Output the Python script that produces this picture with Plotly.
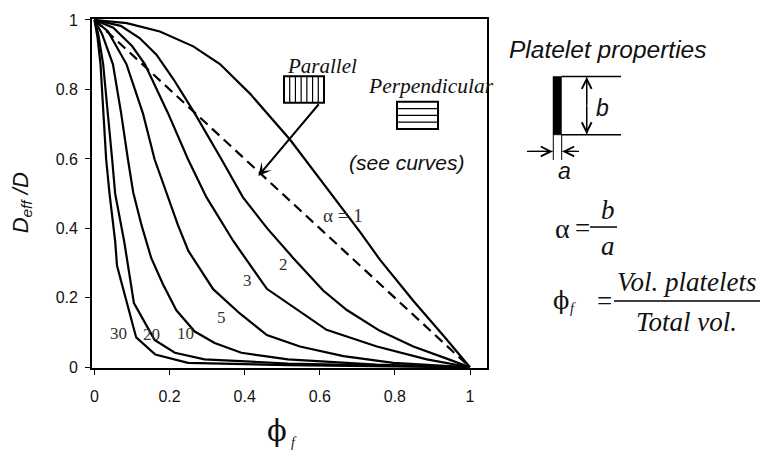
import plotly.graph_objects as go

# ---- data ----
phi_a1 = [0, 0.086, 0.174, 0.263, 0.334, 0.414, 0.521, 0.627, 0.707, 0.76, 0.85, 0.93, 1.0]
d_a1 = [1.0, 0.991, 0.967, 0.924, 0.873, 0.788, 0.655, 0.504, 0.39, 0.31, 0.19, 0.09, 0.0]

phi_a2 = [0, 0.07, 0.12, 0.165, 0.21, 0.267, 0.338, 0.395, 0.46, 0.529, 0.609, 0.672, 0.76, 0.849, 0.938, 1.0]
d_a2 = [1.0, 0.983, 0.948, 0.90, 0.83, 0.731, 0.599, 0.49, 0.40, 0.315, 0.221, 0.165, 0.105, 0.06, 0.025, 0.0]

phi_a3 = [0, 0.05, 0.1, 0.134, 0.196, 0.249, 0.298, 0.370, 0.459, 0.529, 0.618, 0.752, 0.885, 1.0]
d_a3 = [1.0, 0.978, 0.925, 0.873, 0.731, 0.599, 0.49, 0.363, 0.226, 0.174, 0.108, 0.060, 0.023, 0.0]

phi_a5 = [0, 0.036, 0.085, 0.129, 0.160, 0.191, 0.222, 0.25, 0.316, 0.387, 0.459, 0.547, 0.663, 0.796, 1.0]
d_a5 = [1.0, 0.967, 0.873, 0.731, 0.599, 0.504, 0.41, 0.335, 0.225, 0.155, 0.093, 0.060, 0.032, 0.013, 0.0]

phi_a10 = [0, 0.02, 0.049, 0.071, 0.089, 0.103, 0.125, 0.151, 0.182, 0.218, 0.267, 0.320, 0.391, 0.515, 0.75, 1.0]
d_a10 = [1.0, 0.96, 0.873, 0.731, 0.599, 0.504, 0.41, 0.315, 0.240, 0.164, 0.103, 0.070, 0.042, 0.023, 0.008, 0.0]

phi_a20 = [0, 0.01, 0.023, 0.036, 0.047, 0.055, 0.079, 0.105, 0.160, 0.214, 0.293, 0.515, 1.0]
d_a20 = [1.0, 0.96, 0.873, 0.731, 0.599, 0.50, 0.363, 0.185, 0.079, 0.042, 0.023, 0.011, 0.0]

phi_a30 = [0, 0.008, 0.016, 0.023, 0.031, 0.04, 0.055, 0.060, 0.111, 0.162, 0.249, 0.515, 1.0]
d_a30 = [1.0, 0.95, 0.873, 0.731, 0.599, 0.50, 0.363, 0.292, 0.086, 0.037, 0.013, 0.006, 0.0]

phi_perp = [0, 1.0]
d_perp = [1.0, 0.0]

x_ticks = [0, 0.2, 0.4, 0.6, 0.8, 1]
x_tick_text = ["0", "0.2", "0.4", "0.6", "0.8", "1"]
y_ticks = [0, 0.2, 0.4, 0.6, 0.8, 1]
y_tick_text = ["0", "0.2", "0.4", "0.6", "0.8", "1"]

curve_labels = ["α = 1", "2", "3", "5", "10", "20", "30"]

SERIF = "Liberation Serif"
SANS = "Liberation Sans"
PHI_FONT = "DejaVu Serif"

# plot area in pixels
L, R, T, B = 92, 487, 14, 368
W, H = 761, 451


def PX(px):
    return (px - L) / (R - L)


def PY(py):
    return (B - py) / (B - T)


fig = go.Figure()
for xs, ys in [(phi_a1, d_a1), (phi_a2, d_a2), (phi_a3, d_a3), (phi_a5, d_a5),
               (phi_a10, d_a10), (phi_a20, d_a20), (phi_a30, d_a30)]:
    fig.add_trace(go.Scatter(x=xs, y=ys, mode="lines",
                             line=dict(color="black", width=2.2),
                             showlegend=False, hoverinfo="skip"))
fig.add_trace(go.Scatter(x=phi_perp, y=d_perp, mode="lines",
                         line=dict(color="black", width=2.2, dash="10px,6px"),
                         showlegend=False, hoverinfo="skip"))

ann = []


def text(px, py, s, size, family, color="black", angle=0):
    ann.append(dict(x=PX(px), y=PY(py), xref="paper", yref="paper", text=s,
                    showarrow=False, xanchor="center", yanchor="middle",
                    textangle=angle,
                    font=dict(family=family, size=size, color=color)))


# curve labels
label_pos = [(343, 213), (283, 263), (247, 279), (221, 317), (185, 333), (151, 334), (118, 333)]
for lab, (px, py) in zip(curve_labels, label_pos):
    text(px, py, lab, 19 if lab.startswith("α") else 17, SERIF, "#333")

# orientation legend
text(322, 62, "<i>Parallel</i>", 21, SERIF, "#111")
text(431, 82, "<i>Perpendicular</i>", 21.5, SERIF, "#111")
text(407, 160, "<i>(see curves)</i>", 21, SANS, "#111")

# arrow from parallel box
ann.append(dict(x=PX(258.3), y=PY(173.3), xref="paper", yref="paper", text="",
                showarrow=True, ax=61.7, ay=-73.3, arrowhead=3, arrowsize=1.1,
                arrowwidth=2, arrowcolor="black", standoff=0))

# axis titles
text(22, 201, "<i>D<sub>eff</sub> /D</i>", 22, SANS, "#111", angle=-90)
text(277, 432, "ϕ", 29, PHI_FONT, "#111")
text(294, 444, "<i>f</i>", 14, SERIF, "#111")

# platelet properties panel
text(607, 45, "<i>Platelet properties</i>", 24.5, SANS, "#111")
text(602, 104, "<i>b</i>", 23, SANS, "#111")
text(564, 168, "<i>a</i>", 23, SANS, "#111")
for tipx, tipy, ax, ay in [(586.7, 72.8, 0, 29), (586.7, 130.8, 0, -29),
                           (552.7, 148.3, -25, 0), (562.3, 148.3, 16, 0)]:
    ann.append(dict(x=PX(tipx), y=PY(tipy), xref="paper", yref="paper", text="",
                    showarrow=True, ax=ax, ay=ay, arrowhead=5, arrowsize=1.6,
                    arrowwidth=1.2, arrowcolor="black", standoff=0))

# alpha = b / a
text(562, 226, "α", 28, SERIF, "#111")
text(582, 226, "=", 27, SERIF, "#111")
text(608, 208, "<i>b</i>", 27, SERIF, "#111")
text(608, 244, "<i>a</i>", 27, SERIF, "#111")
# phi_f = Vol. platelets / Total vol.
text(561, 300, "ϕ", 24, PHI_FONT, "#111")
text(573, 308, "<i>f</i>", 14, SERIF, "#111")
text(604, 300, "=", 27, SERIF, "#111")
text(686, 281, "<i>Vol. platelets</i>", 27, SERIF, "#111")
text(686, 321, "<i>Total vol.</i>", 27, SERIF, "#111")

shapes = []


def line(x0, y0, x1, y1, w=1.5):
    shapes.append(dict(type="line", xref="paper", yref="paper",
                       x0=PX(x0), y0=PY(y0), x1=PX(x1), y1=PY(y1),
                       line=dict(color="black", width=w)))


def rect(x0, y0, x1, y1, w=2, fill=None):
    shapes.append(dict(type="rect", xref="paper", yref="paper",
                       x0=PX(x0), y0=PY(y0), x1=PX(x1), y1=PY(y1),
                       line=dict(color="black", width=w),
                       fillcolor=fill if fill else "rgba(0,0,0,0)"))


# parallel box (vertical stripes)
px0, py0, px1, py1 = 284, 72, 324, 99
rect(px0, py0, px1, py1, 2)
for i in range(1, 7):
    xx = px0 + (px1 - px0) * i / 7
    line(xx, py0, xx, py1, 1.2)
# perpendicular box (horizontal stripes)
qx0, qy0, qx1, qy1 = 397, 98, 438, 125.5
rect(qx0, qy0, qx1, qy1, 2)
for i in range(1, 4):
    yy = qy0 + (qy1 - qy0) * i / 4
    line(qx0, yy, qx1, yy, 1.2)

# platelet sketch
rect(553, 72.3, 561.5, 131.5, 0.5, "black")
line(561.5, 72.3, 621, 72.3, 1.5)
line(561.5, 131.3, 621, 131.3, 1.5)
line(586.7, 73, 586.7, 131, 1.2)
line(553.3, 131.5, 553.3, 157, 1)
line(561.7, 131.5, 561.7, 157, 1)
line(527, 148.3, 552.5, 148.3, 1.2)
line(562.5, 148.3, 579, 148.3, 1.2)

# fraction bars
line(590, 225, 617, 225, 1.5)
line(614, 300, 760, 300, 1.5)

xr0 = (L - 94.5) / 375.5
xr1 = (R - 94.5) / 375.5

fig.update_layout(
    width=W, height=H,
    margin=dict(l=L, r=W - R, t=T, b=H - B, pad=0),
    paper_bgcolor="white", plot_bgcolor="white",
    annotations=ann, shapes=shapes,
    xaxis=dict(range=[xr0, xr1], tickvals=x_ticks, ticktext=x_tick_text,
               ticks="outside", ticklen=5, tickwidth=1.2, tickcolor="black",
               showline=True, mirror=True, linewidth=1.8, linecolor="black",
               showgrid=False, zeroline=False, ticklabelstandoff=8,
               tickfont=dict(family=SANS, size=16, color="#111")),
    yaxis=dict(range=[-0.002, 1.0028], tickvals=y_ticks, ticktext=y_tick_text,
               ticks="outside", ticklen=5, tickwidth=1.2, tickcolor="black",
               showline=True, mirror=True, linewidth=1.8, linecolor="black",
               showgrid=False, zeroline=False, ticklabelstandoff=4,
               tickfont=dict(family=SANS, size=16, color="#111")),
)

fig.write_html("out.html", config={"displayModeBar": False},
               post_script="document.body.style.margin='0';")
